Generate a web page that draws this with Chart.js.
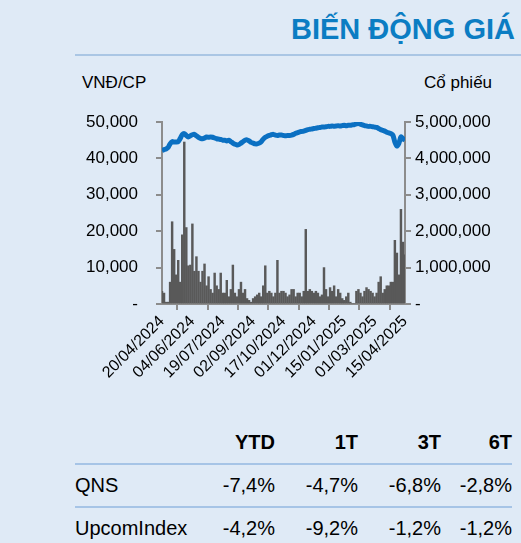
<!DOCTYPE html>
<html><head><meta charset="utf-8">
<script src="https://cdn.jsdelivr.net/npm/chart.js@4"></script>
<style>
body{margin:0;background:#dfeaf6;font-family:"Liberation Sans",Arial,sans-serif;}
#wrap{position:relative;width:521px;height:543px;overflow:hidden;}
.t{position:absolute;white-space:nowrap;color:#000;font-size:17px;}
#title{right:6px;top:13px;font-size:29px;font-weight:bold;color:#0b7dc3;}
#rule{position:absolute;left:75px;top:54px;width:446px;height:2px;background:#aac6e4;}
#cv{position:absolute;left:0;top:0;}
table{position:absolute;left:75px;top:421px;width:437px;table-layout:fixed;border-collapse:collapse;font-size:20px;}
td{padding:0;height:41px;text-align:right;}
td:first-child{text-align:left;}
tr.h td{font-weight:bold;height:42px;}
tr.b td{border-bottom:2px solid #a6c4e6;}
</style></head><body>
<div id="wrap">
<div class="t" id="title">BIẾN ĐỘNG GIÁ</div>
<div id="rule"></div>
<div class="t" style="left:82px;top:73px">VNĐ/CP</div>
<div class="t" style="left:424px;top:73px">Cổ phiếu</div>
<canvas id="cv" width="521" height="420"></canvas>
<table id="tb"><colgroup><col style="width:125px"><col style="width:75px"><col style="width:83px"><col style="width:83px"><col style="width:71px"></colgroup></table>
</div>
<script>
// dates (every 45 calendar days), one sample every 3 days from 20/04/2024
const TICK_LABELS = ['20/04/2024','04/06/2024','19/07/2024','02/09/2024','17/10/2024','01/12/2024','15/01/2025','01/03/2025','15/04/2025'];
const STEP_DAYS = 3;
const PRICE = [42.2,42.4,42.6,43.0,44.0,44.6,44.5,44.5,44.6,45.5,46.5,46.8,46.3,45.9,46.2,46.5,46.6,46.2,45.8,45.5,
  45.4,45.6,45.9,45.8,45.9,45.8,45.6,45.4,45.3,45.2,45.0,45.0,44.8,45.0,44.6,44.2,43.9,43.7,43.8,44.2,
  44.6,45.0,45.1,44.8,44.4,44.2,44.0,44.0,44.2,44.6,45.3,45.8,46.1,46.3,46.5,46.6,46.4,46.3,46.4,46.4,
  46.3,46.2,46.3,46.3,46.4,46.6,46.9,47.1,47.3,47.4,47.5,47.7,47.9,48.0,48.1,48.2,48.3,48.4,48.5,48.6,
  48.6,48.7,48.8,48.8,48.9,48.8,48.9,49.0,48.9,49.0,49.1,49.0,49.1,49.1,49.2,49.3,49.5,49.6,49.4,49.2,
  49.0,48.9,48.8,48.8,48.7,48.6,48.5,48.2,47.9,47.7,47.5,47.2,47.0,46.8,46.4,44.5,43.4,44.2,45.9,45.4,45.0];
const VOLUME_M = [0.35,0.3,0.05,0.05,0.6,2.26,1.5,0.8,1.2,0.6,1.9,4.45,2.1,1.05,1.07,2.2,0.9,1.3,0.9,0.6,
  0.9,1.1,0.5,0.75,0.4,0.3,0.85,0.5,0.4,0.85,0.3,0.3,0.65,0.2,0.4,1.07,0.3,0.2,0.4,0.6,
  0.3,0.4,0.15,0.1,0.05,0.15,0.2,0.25,0.3,0.2,0.5,1.05,0.3,0.35,0.3,0.2,0.3,1.2,0.3,0.35,
  0.35,0.3,0.2,0.25,0.4,0.4,0.2,0.3,0.3,0.2,0.35,2.05,0.35,0.4,0.35,0.3,0.35,0.3,0.2,0.25,
  1.0,0.4,0.2,0.45,0.35,0.5,0.2,0.4,0.3,0.15,0.1,0.2,0.3,0.05,0,0,0.35,0.4,0.3,0.2,
  0.35,0.45,0.4,0.35,0.3,0.2,0.3,0.6,0.75,0.3,0.4,0.5,0.5,0.6,0.6,1.75,1.4,0.8,2.6,1.7,1.35];
const TABLE_HEAD = ['', 'YTD', '1T', '3T', '6T'];
const TABLE_ROWS = [['QNS','-7,4%','-4,7%','-6,8%','-2,8%'],['UpcomIndex','-4,2%','-9,2%','-1,2%','-1,2%']];

const tb = document.getElementById('tb');
tb.insertAdjacentHTML('beforeend', `<tr class="h b">${TABLE_HEAD.map(v=>`<td>${v}</td>`).join('')}</tr>` +
  TABLE_ROWS.map((r,i)=>`<tr class="${i<TABLE_ROWS.length-1?'b':''}">${r.map(v=>`<td>${v}</td>`).join('')}</tr>`).join(''));

const fmt = v => v===0 ? '-' : v.toLocaleString('en-US');
const font = {family:'"Liberation Sans", Arial', size:17};
const axisGrid = {drawOnChartArea:false, drawTicks:true, tickLength:6, color:'#8c8c8c', lineWidth:2};
const border = {display:true, color:'#8c8c8c', width:2};

new Chart(document.getElementById('cv'), {
  data:{datasets:[
    {type:'line', yAxisID:'y', data:PRICE.map((v,i)=>({x:i*STEP_DAYS, y:v*1000})),
      borderColor:'#0b70c2', borderWidth:5, pointRadius:0, tension:0.3, order:0},
    {type:'bar', yAxisID:'y2', data:VOLUME_M.map((v,i)=>({x:i*STEP_DAYS, y:v*1e6})),
      backgroundColor:'#595959', barThickness:1.8, order:1}
  ]},
  options:{
    responsive:false, animation:false,
    layout:{padding:{top:122, left:0, right:0, bottom:0}},
    plugins:{legend:{display:false}, tooltip:{enabled:false}},
    scales:{
      x:{type:'linear', min:0, max:360, offset:false,
        afterFit:a=>{a.height=116;},
        grid:axisGrid, border:border,
        ticks:{stepSize:45, maxRotation:45, minRotation:45, autoSkip:false, color:'#000', font:{...font, size:16}, padding:2,
          callback:v=>TICK_LABELS[Math.round(v/45)]}},
      y:{position:'left', min:0, max:50000,
        afterFit:a=>{a.width=162;},
        grid:axisGrid, border:border,
        ticks:{stepSize:10000, color:'#000', font:font, padding:18, callback:fmt}},
      y2:{position:'right', min:0, max:5000000,
        afterFit:a=>{a.width=116;},
        grid:axisGrid, border:border,
        ticks:{stepSize:1000000, color:'#000', font:font, padding:4, callback:fmt}}
    }
  }
});
</script>
</body></html>
